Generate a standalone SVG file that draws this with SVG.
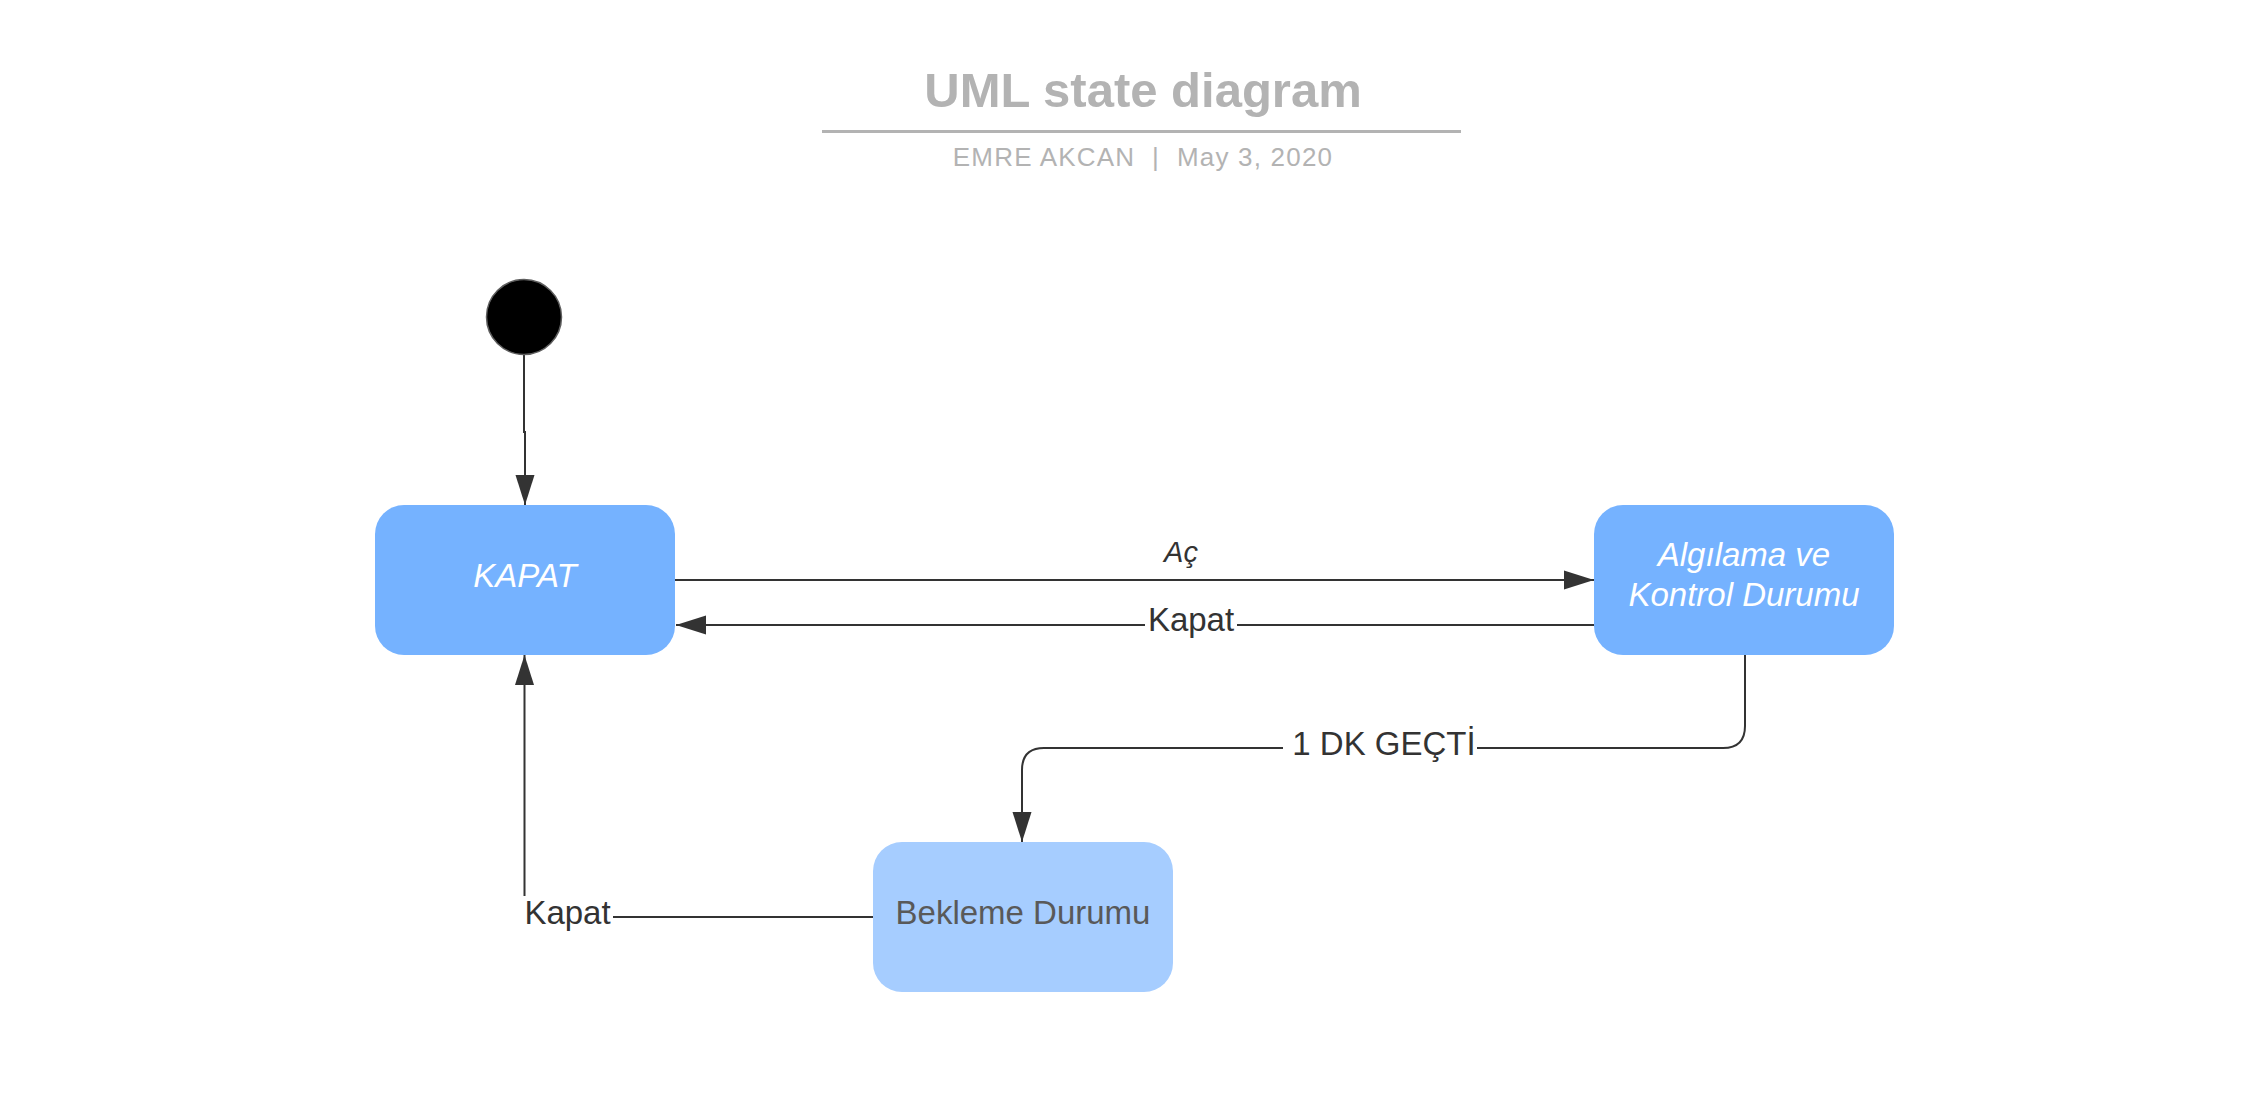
<svg xmlns="http://www.w3.org/2000/svg" width="2266" height="1098" viewBox="0 0 2266 1098">
<style>
.t{font-family:"Liberation Sans",Arial,sans-serif}
.state{fill:#75b2ff}
.state2{fill:#a6cdff}
.lbl{font-family:"Liberation Sans",Arial,sans-serif;font-size:33px;fill:#333333;text-anchor:middle}
.wlbl{font-family:"Liberation Sans",Arial,sans-serif;font-size:33px;font-style:italic;fill:#ffffff;text-anchor:middle}
.conn{fill:none;stroke:#333333;stroke-width:2}
.bg{fill:#ffffff}
</style>
<defs>
<marker id="arr" markerUnits="userSpaceOnUse" markerWidth="31" markerHeight="20" refX="30" refY="10" orient="auto">
<path d="M0,0.5 L30,10 L0,19.5 Z" fill="#333333"/>
</marker>
</defs>
<rect width="2266" height="1098" fill="#ffffff"/>
<g id="title">
<text class="t" x="1143" y="107" font-size="49" font-weight="bold" fill="#b3b3b3" text-anchor="middle">UML state diagram</text>
<line x1="822" y1="131.5" x2="1461" y2="131.5" stroke="#b3b3b3" stroke-width="3"/>
<text class="t" x="1143" y="166" font-size="26" letter-spacing="1.2" fill="#b3b3b3" text-anchor="middle" xml:space="preserve">EMRE AKCAN  |  May 3, 2020</text>
</g>
<g id="connectors">
<path class="conn" d="M524 355 V432 H525 V505" marker-end="url(#arr)"/>
<path class="conn" d="M675 580 H1594" marker-end="url(#arr)"/>
<path class="conn" d="M1594 625 H676" marker-end="url(#arr)"/>
<path class="conn" d="M1745 655 V726 Q1745 748 1723 748 H1044 Q1022 748 1022 770 V842" marker-end="url(#arr)"/>
<path class="conn" d="M873 917 H524.5 V655" marker-end="url(#arr)"/>
<text class="t" x="1181" y="562" font-size="29" font-style="italic" fill="#333333" text-anchor="middle">Aç</text>
<rect class="bg" x="1145" y="606" width="92" height="36"/>
<text class="lbl" x="1191" y="631">Kapat</text>
<rect class="bg" x="1283" y="726" width="194" height="40"/>
<text class="lbl" x="1384" y="755">1 DK GEÇTİ</text>
<rect class="bg" x="522" y="896" width="91" height="42"/>
<text class="lbl" x="567.5" y="924">Kapat</text>
</g>
<g id="initial">
<circle cx="524" cy="317" r="37.5" fill="#000000" stroke="#5e5e5e" stroke-width="1.5"/>
</g>
<g id="kapat">
<rect class="state" x="375" y="505" width="300" height="150" rx="29" ry="29"/>
<text class="wlbl" x="525" y="587">KAPAT</text>
</g>
<g id="algilama">
<rect class="state" x="1594" y="505" width="300" height="150" rx="29" ry="29"/>
<text class="wlbl" x="1744" y="566">Algılama ve</text>
<text class="wlbl" x="1744" y="606">Kontrol Durumu</text>
</g>
<g id="bekleme">
<rect class="state2" x="873" y="842" width="300" height="150" rx="29" ry="29"/>
<text class="t" x="1023" y="924" font-size="33" fill="#595959" text-anchor="middle">Bekleme Durumu</text>
</g>
</svg>
